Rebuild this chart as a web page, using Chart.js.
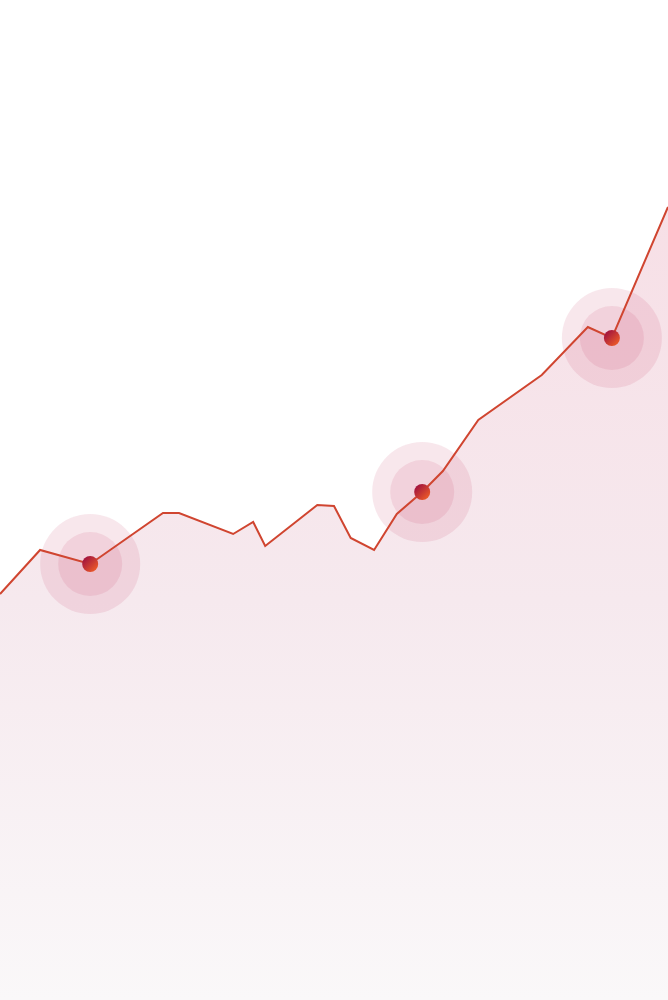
<!DOCTYPE html>
<html>
<head>
<meta charset="utf-8">
<script src="https://cdn.jsdelivr.net/npm/chart.js@4/dist/chart.umd.min.js"></script>
<style>
    html, body { margin: 0; padding: 0; background: #fff; }
    #wrap { width: 668px; height: 1000px; position: relative; }
</style>
</head>
<body>
<div id="wrap"><canvas id="trend"></canvas></div>
<script>
// data (x: position along the period, y: index value)
const xValues = [0, 6.0, 13.5, 24.4, 26.8, 34.9, 37.9, 39.7, 47.5, 50.0,
                 52.5, 56.0, 59.4, 63.2, 66.3, 71.6, 81.1, 88.0, 91.6, 100];
const yValues = [40.6, 45.0, 43.6, 48.7, 48.7, 46.6, 47.8, 45.4, 49.5, 49.4,
                 46.2, 45.0, 48.6, 50.8, 52.9, 58.0, 62.5, 67.3, 66.2, 79.3];
const highlightIdx = [2, 13, 18];

const points = xValues.map((x, i) => ({ x: x, y: yValues[i] }));

// halos under the line and gradient dots on top of it
const highlightPlugin = {
    id: 'highlight',
    beforeDatasetDraw(chart, args) {
        const meta = args.meta;
        const ctx = chart.ctx;
        ctx.save();
        highlightIdx.forEach(i => {
            const el = meta.data[i];
            ctx.fillStyle = 'rgba(200, 70, 110, 0.13)';
            ctx.beginPath();
            ctx.arc(el.x, el.y, 50, 0, Math.PI * 2);
            ctx.fill();
            ctx.beginPath();
            ctx.arc(el.x, el.y, 32, 0, Math.PI * 2);
            ctx.fill();
        });
        ctx.restore();
    },
    afterDatasetDraw(chart, args) {
        const meta = args.meta;
        const ctx = chart.ctx;
        ctx.save();
        highlightIdx.forEach(i => {
            const el = meta.data[i];
            const g = ctx.createLinearGradient(el.x - 6, el.y - 6, el.x + 6, el.y + 6);
            g.addColorStop(0, '#a0123f');
            g.addColorStop(1, '#ec5a28');
            ctx.fillStyle = g;
            ctx.beginPath();
            ctx.arc(el.x, el.y, 8, 0, Math.PI * 2);
            ctx.fill();
        });
        ctx.restore();
    }
};

function fillGradient(context) {
    const chart = context.chart;
    const area = chart.chartArea;
    if (!area) return '#f7e4ea';
    const g = chart.ctx.createLinearGradient(0, area.top + 200, 0, area.bottom);
    g.addColorStop(0, '#f7dfe6');
    g.addColorStop(0.5, '#f6e9ee');
    g.addColorStop(1, '#faf8f9');
    return g;
}

new Chart(document.getElementById('trend'), {
    type: 'line',
    data: {
        datasets: [{
            data: points,
            borderColor: '#d04530',
            borderWidth: 2,
            tension: 0,
            pointRadius: 0,
            pointHoverRadius: 0,
            fill: 'start',
            backgroundColor: fillGradient
        }]
    },
    options: {
        responsive: true,
        maintainAspectRatio: false,
        animation: false,
        events: [],
        layout: { padding: 0 },
        plugins: {
            legend: { display: false },
            tooltip: { enabled: false },
            filler: { drawTime: 'beforeDatasetsDraw' }
        },
        scales: {
            x: { type: 'linear', min: 0, max: 100, display: false },
            y: { type: 'linear', min: 0, max: 100, display: false }
        }
    },
    plugins: [highlightPlugin]
});
</script>
</body>
</html>
